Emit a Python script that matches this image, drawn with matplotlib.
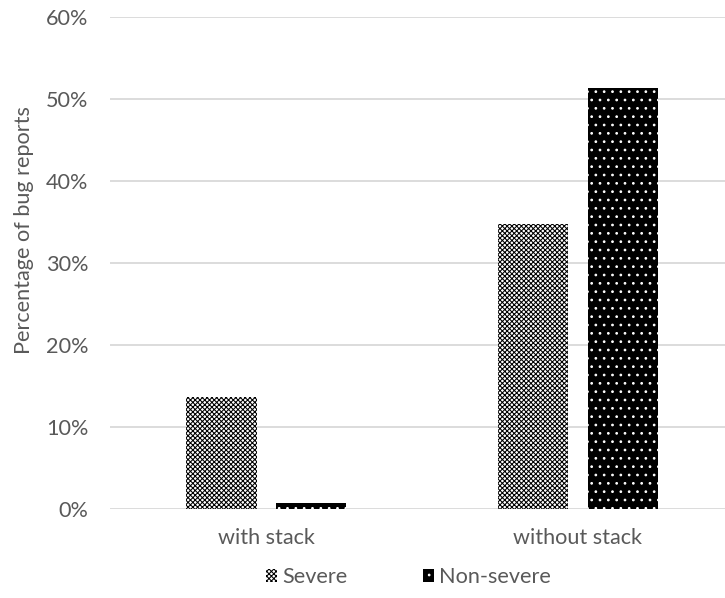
import matplotlib

matplotlib.use("Agg")
from matplotlib import pyplot as plt
from matplotlib.ticker import PercentFormatter

categories = ["with stack", "without stack"]
severe = [13.7, 34.8]
non_severe = [0.7, 51.4]
y_ticks = [0, 10, 20, 30, 40, 50, 60]

plt.rcParams["font.family"] = ["Lato", "DejaVu Sans"]
plt.rcParams["hatch.linewidth"] = 0.75
text_color = "#595959"
font_size = 15.6

fig = plt.figure(figsize=(7.25, 5.98), dpi=100)
ax = fig.add_axes([0.1517, 0.1488, 0.8483, 0.8228])

xs = range(len(categories))
width = 0.225
offset = 0.144
ax.bar([x - offset for x in xs], severe, width=width, facecolor="white",
       edgecolor="black", linewidth=0, hatch="xxxxxxx", label="Severe", zorder=3)
ax.bar([x + offset for x in xs], non_severe, width=width, facecolor="black",
       edgecolor="white", linewidth=0, hatch="..", label="Non-severe", zorder=3)

ax.set_xlim(-0.502, 1.472)
ax.set_ylim(0, 60)
ax.set_yticks(y_ticks)
ax.yaxis.set_major_formatter(PercentFormatter(decimals=0))
ax.set_xticks(list(xs))
ax.set_xticklabels(categories)
ax.grid(axis="y", color="#d9d9d9", linewidth=1.3, zorder=0)
ax.set_axisbelow(True)
for spine in ax.spines.values():
    spine.set_visible(False)
ax.tick_params(axis="both", length=0, labelsize=font_size, colors=text_color)
ax.tick_params(axis="x", pad=14)
ax.tick_params(axis="y", pad=15.5)
ax.set_ylabel("Percentage of bug reports", fontsize=font_size, color=text_color)
ax.yaxis.set_label_coords(-0.1235, 0.567)

leg = fig.legend(loc="center", bbox_to_anchor=(0.5634, 0.035), ncol=2, frameon=False,
                 handlelength=0.5, handleheight=0.5, handletextpad=0.25, columnspacing=3.5,
                 fontsize=font_size)
for text in leg.get_texts():
    text.set_color(text_color)

fig.savefig("out.png", dpi=100)
